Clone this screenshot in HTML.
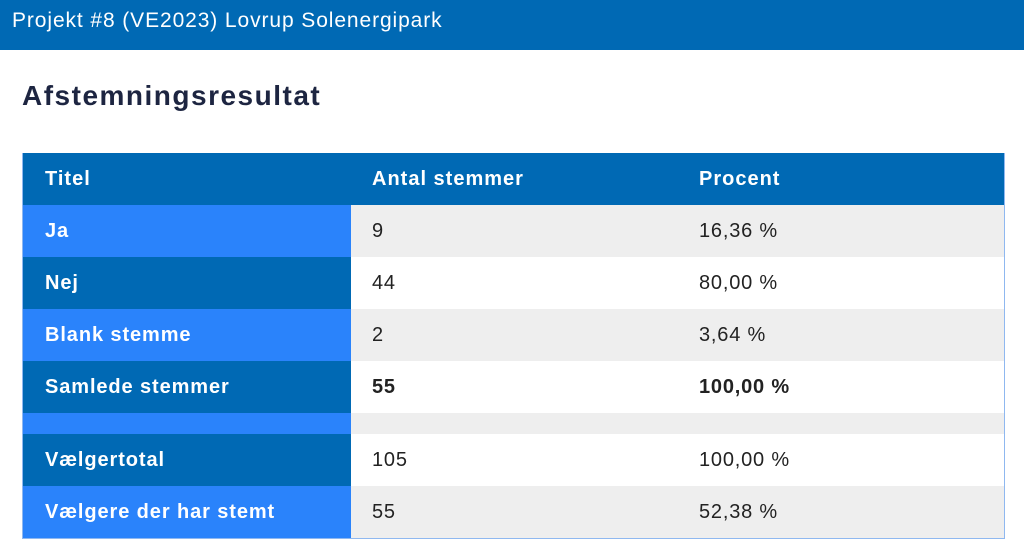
<!DOCTYPE html>
<html><head><meta charset="utf-8"><style>
*{margin:0;padding:0;box-sizing:border-box}
body{width:1024px;height:559px;background:#fff;font-family:"Liberation Sans",sans-serif;overflow:hidden;position:relative}
.top{position:absolute;left:0;top:0;width:1024px;height:50px;background:#0069b4;color:#fff;font-size:21px;line-height:42px;padding-left:12px;letter-spacing:0.9px}
h1{position:absolute;left:22px;top:80px;font-size:28px;font-weight:bold;color:#1d2541;letter-spacing:1.5px}
.tbl{position:absolute;left:22px;top:153px;width:983px;border:1px solid #8fb8f0;border-top:none}
.r{display:flex;height:52px;align-items:center;font-size:20px}
.r div{height:100%;display:flex;align-items:center}
.c1{width:328px;padding-left:22px;color:#fff;font-weight:bold;letter-spacing:0.9px}
.c2{width:327px;padding-left:21px;color:#222;letter-spacing:0.8px}
.c3{flex:1;padding-left:21px;color:#222;letter-spacing:0.8px}
.hd{background:#0069b4}.hd div{color:#fff;font-weight:bold;letter-spacing:1px}
.L .c1{background:#2a83fb}.D .c1{background:#0069b4}
.g .c2,.g .c3{background:#eeeeee}.w .c2,.w .c3{background:#fff}
.b .c2,.b .c3{font-weight:bold}
</style></head><body>
<div class="top">Projekt #8 (VE2023) Lovrup Solenergipark</div>
<h1>Afstemningsresultat</h1>
<div class="tbl">
<div class="r hd"><div class="c1">Titel</div><div class="c2">Antal stemmer</div><div class="c3">Procent</div></div>
<div class="r L g"><div class="c1">Ja</div><div class="c2">9</div><div class="c3">16,36 %</div></div>
<div class="r D w"><div class="c1">Nej</div><div class="c2">44</div><div class="c3">80,00 %</div></div>
<div class="r L g"><div class="c1">Blank stemme</div><div class="c2">2</div><div class="c3">3,64 %</div></div>
<div class="r D w b"><div class="c1">Samlede stemmer</div><div class="c2">55</div><div class="c3">100,00 %</div></div>
<div class="r L g" style="height:21px"><div class="c1"></div><div class="c2"></div><div class="c3"></div></div>
<div class="r D w"><div class="c1">Vælgertotal</div><div class="c2">105</div><div class="c3">100,00 %</div></div>
<div class="r L g"><div class="c1">Vælgere der har stemt</div><div class="c2">55</div><div class="c3">52,38 %</div></div>
</div>
</body></html>
